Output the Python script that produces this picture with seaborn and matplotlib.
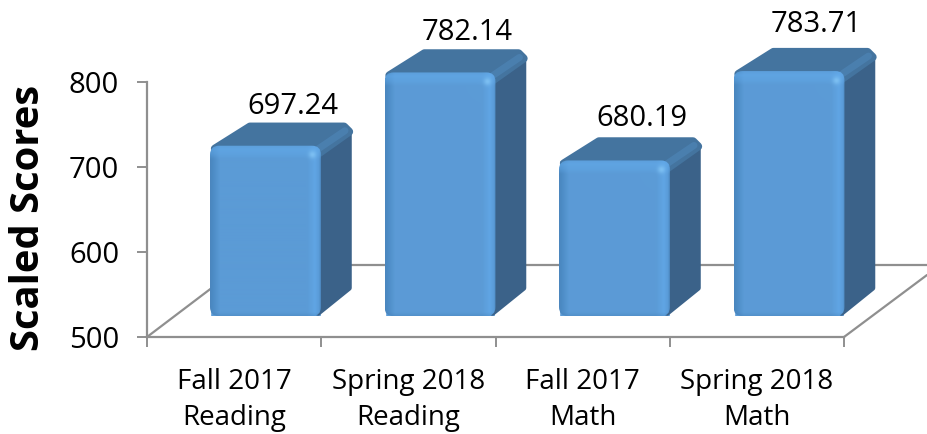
import numpy as np
import pandas as pd
import matplotlib
matplotlib.use('Agg')
import matplotlib.pyplot as plt
from matplotlib.colors import to_rgb
from matplotlib.patches import FancyBboxPatch, Polygon
import seaborn as sns

# Values as printed on the chart
categories = ['Fall 2017\nReading', 'Spring 2018\nReading', 'Fall 2017\nMath', 'Spring 2018\nMath']
scores = [697.24, 782.14, 680.19, 783.71]
score_labels = ['697.24', '782.14', '680.19', '783.71']
y_ticks = [500, 600, 700, 800]

W, H = 927, 434
GREY = '#8f8f8f'
FRONT = '#5b9bd6'
TOP = '#44749f'
SIDE = '#3b6289'
label_lift = [39, 40, 42, 47]  # label height over each bar, px

sns.set_theme(style='white')
plt.rcParams['font.family'] = ['Open Sans', 'DejaVu Sans']
fig = plt.figure(figsize=(W / 100, H / 100), dpi=100)


def px_axes(left, top, right, bottom, **kw):
    return fig.add_axes([left / W, 1 - bottom / H, (right - left) / W, (bottom - top) / H], **kw)


# Axis frame at the front of the 3D box
ax = px_axes(147, 82, 844, 337)
ax.set_facecolor('none')
ax.set_xlim(-0.5, 3.5)
ax.set_ylim(500, 800)
ax.set_yticks(y_ticks)
ax.set_xticks(range(4))
ax.set_xticklabels(categories, fontsize=20, color='black', linespacing=1.4)
ax.set_xticks(np.arange(-0.5, 4), minor=True)
ax.tick_params(axis='y', length=7, width=1.4, color=GREY, labelsize=21, labelcolor='black', pad=13, left=True)
ax.tick_params(axis='x', which='major', length=0, pad=22)
ax.tick_params(axis='x', which='minor', length=7, width=1.4, color=GREY, bottom=True)
sns.despine(ax=ax)
for s in ['left', 'bottom']:
    ax.spines[s].set_color(GREY)
    ax.spines[s].set_linewidth(1.6)
fig.text(29 / W, 1 - 218 / H, 'Scaled Scores', rotation=90, fontsize=28.8, fontweight='bold',
         ha='center', va='center', color='black')

# Bars sit further back than the axis frame, so they get their own axes
ax_bars = px_axes(178.25, 57, 876.25, 316)
df = pd.DataFrame({'category': categories, 'score': scores})
sns.barplot(data=df, x='category', y='score', color=FRONT, saturation=1, width=0.636, ax=ax_bars)
ax_bars.set_xlim(-0.5, 3.5)
ax_bars.set_ylim(500, 800)
ax_bars.axis('off')

# Pixel overlay for the box sides and the bevel shading
ov = px_axes(0, 0, W, H, zorder=5)
ov.set_facecolor('none')
ov.axis('off')

ov.plot([147, 242], [337, 265], color=GREY, lw=1.6, zorder=1)
ov.plot([844, 927], [337, 275], color=GREY, lw=1.6, zorder=1)
ov.plot([242, 927], [265, 265], color=GREY, lw=1.6, zorder=1)


def front_image(w, h):
    stops = [0, 3, 10, w - 14, w - 6, w - 2, w]
    cols = [to_rgb(c) for c in ['#4a86bd', '#4c8bc5', FRONT, FRONT, '#60a5e4', '#5a9bd8', '#4a84ba']]
    u = np.arange(w) + 0.5
    row = np.stack([np.interp(u, stops, [c[i] for c in cols]) for i in range(3)], axis=1)
    img = np.repeat(row[None, :, :], h, axis=0)
    # lighter band along the top bevel and thin dark foot
    band = np.interp(np.arange(h) + 0.5, [0, 4, 9, 14], [0.2, 0.6, 0.4, 0])[:, None, None]
    img = img * (1 - band) + np.array(to_rgb('#62aaea')) * band
    foot = np.interp(np.arange(h) + 0.5, [h - 4, h], [0, 0.3])[:, None, None]
    img = img * (1 - foot) + np.array(to_rgb('#3f78ad')) * foot
    # small glint on the top right corner
    yy, xx = np.mgrid[0:h, 0:w]
    glint = np.exp(-((xx - (w - 9)) ** 2 + (yy - 9) ** 2) / 14.0)[:, :, None] * 0.6
    return img * (1 - glint) + np.array(to_rgb('#8fd0fb')) * glint


for i, bar in enumerate(ax_bars.patches):
    x_left = bar.get_x()
    (x0, y0), (x1, y1) = ax_bars.transData.transform([(x_left, 500), (x_left + bar.get_width(), bar.get_height())])
    y0, y1 = H - y0, H - y1  # pixel rows, y1 is the bar top
    z = 3 + i

    # side and top faces, thick round edges give the soft corners
    ov.add_patch(Polygon([(x1 - 3, y1 + 8), (x1 + 28, y1 - 15), (x1 + 28, y0 - 28), (x1 - 3, y0 - 3)],
                         closed=True, fc=SIDE, ec=SIDE, lw=4, joinstyle='round', zorder=z))
    ov.add_patch(Polygon([(x0 + 5, y1 + 3), (x0 + 40, y1 - 19), (x1 + 23, y1 - 19), (x1 + 28, y1 - 14), (x1 - 3, y1 + 8)],
                         closed=True, fc=TOP, ec=TOP, lw=6, joinstyle='round', zorder=z))
    ov.plot([x1 - 4, x1 + 24], [y1 + 4, y1 - 15], color='#4c82b3', lw=5, alpha=0.8,
            solid_capstyle='round', zorder=z)

    # front face, rounded corners
    clip = FancyBboxPatch((x0, y1), x1 - x0, y0 - y1, boxstyle='round,pad=0,rounding_size=9',
                          fc='none', ec='none', transform=ov.transData)
    ov.add_patch(clip)
    im = ov.imshow(front_image(int(round(x1 - x0)), int(round(y0 - y1))), extent=(x0, x1, y0, y1),
                   aspect='auto', interpolation='bilinear', zorder=z + 0.5)
    im.set_clip_path(clip)

    ov.text((x0 + x1) / 2 + 27, y1 - label_lift[i], score_labels[i], fontsize=21, color='black',
            ha='center', va='center', zorder=20)

ov.set_xlim(0, W)
ov.set_ylim(H, 0)

fig.savefig('out.png', dpi=100)
